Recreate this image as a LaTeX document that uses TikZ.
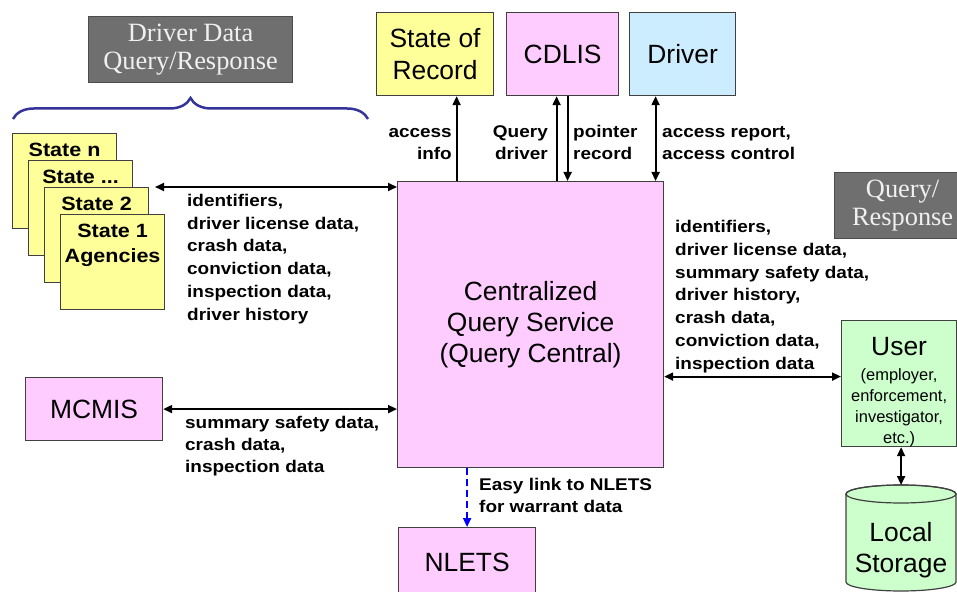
\documentclass[tikz,border=0pt]{standalone}
\usepackage{fontspec}
\setmainfont{Liberation Sans}
\newfontfamily\boldlabel[FakeStretch=1.12]{Liberation Sans}
\newfontfamily\grayserif{Liberation Serif}
\usetikzlibrary{positioning,arrows.meta,decorations.pathreplacing}
\definecolor{qyellow}{HTML}{FFFF99}
\definecolor{qpink}{HTML}{FFCCFF}
\definecolor{qblue}{HTML}{CCECFF}
\definecolor{qgreen}{HTML}{CCFFCC}
\definecolor{qgray}{HTML}{6F6F6F}
\definecolor{qbrace}{HTML}{333399}
\tikzset{
  sys box/.style={
    draw=black!75,
    line width=1.2bp,
    anchor=north west,
    inner sep=0pt,
    align=center,
    font=\fontsize{26.5}{32}\selectfont,
  },
  state box/.style={
    sys box,
    fill=qyellow,
    minimum width=104bp,
    minimum height=95bp,
  },
  state text/.style={
    anchor=north,
    inner sep=0pt,
    yshift=-10bp,
    align=center,
    font=\boldlabel\bfseries\fontsize{19.3}{25}\selectfont,
  },
  gray box/.style={
    fill=qgray,
    draw=black!70,
    line width=1.2bp,
    anchor=north west,
    inner sep=0pt,
    text=gray!12,
    align=center,
    font=\grayserif\fontsize{26.5}{28}\selectfont,
  },
  flow text/.style={
    inner sep=0pt,
    align=left,
    font=\boldlabel\bfseries\fontsize{17}{22.8}\selectfont,
  },
  one way/.style={
    line width=2bp,
    -{Triangle[length=9bp,width=8bp]},
  },
  two way/.style={
    line width=2bp,
    {Triangle[length=9bp,width=8bp]}-{Triangle[length=9bp,width=8bp]},
  },
}

\begin{document}
\begin{tikzpicture}[x=1bp, y=-1bp]
    \useasboundingbox (0,0) rectangle (957,592);
    \clip (0,0) rectangle (957,592);

    % headings
    \node [gray box, minimum width=204bp, minimum height=66bp] (qrleft) at (88,16) {Driver Data\\Query/Response};
    \node [gray box, minimum width=136bp, minimum height=66bp] (qrright) at (834,172) {Query/\\Response};
    \draw [decorate, decoration={brace, amplitude=21bp}, qbrace, line width=2.5bp] (13,119) -- (368,119);

    % stacked state agencies
    \node [state box, label={[state text]north:State n}] (stn) at (12,133) {};
    \node [state box, below right=27bp and 16bp of stn.north west, label={[state text]north:State ...}] (stdots) {};
    \node [state box, below right=27bp and 16bp of stdots.north west, label={[state text]north:State 2}] (st2) {};
    \node [state box, below right=27bp and 16bp of st2.north west, label={[state text]north:{State 1\\Agencies}}] (st1) {};

    % top systems
    \node [sys box, fill=qyellow, minimum width=117bp, minimum height=83bp] (sor) at (376,12) {State of\\Record};
    \node [sys box, fill=qpink, minimum width=112bp, minimum height=83bp] (cdlis) at (506,12) {CDLIS};
    \node [sys box, fill=qblue, minimum width=106bp, minimum height=83bp] (driver) at (629,12) {Driver};

    % central service
    \node [sys box, fill=qpink, minimum width=266bp, minimum height=286bp, font=\fontsize{26.5}{31}\selectfont] (central) at (397,181) {Centralized\\Query Service\\(Query Central)};

    \node [sys box, fill=qpink, minimum width=137bp, minimum height=63bp] (mcmis) at (25,377) {MCMIS};
    \node [sys box, fill=qpink, minimum width=137bp, minimum height=70bp] (nlets) at (398,527) {NLETS};

    % user and storage
    \node [sys box, fill=qgreen, minimum width=115bp, minimum height=126bp,
      label={[anchor=north, inner sep=0pt, yshift=-17bp, align=center, font=\fontsize{16.5}{21}\selectfont]north:{{\fontsize{26.5}{26.5}\selectfont User}\\[4bp](employer,\\enforcement,\\investigator,\\etc.)}}] (user) at (841,320) {};
    \draw [fill=qgreen, draw=black!75, line width=1.2bp] (846,494) -- (846,582)
      arc[start angle=180, end angle=360, x radius=55bp, y radius=9bp] -- (956,494)
      arc[start angle=0, end angle=180, x radius=55bp, y radius=9bp] -- cycle;
    \draw [draw=black!75, line width=1.2bp] (901,494) ellipse[x radius=55bp, y radius=9bp];
    \coordinate (stortop) at (901,485);
    \node [inner sep=0pt, align=center, font=\fontsize{26.5}{31}\selectfont] (storage) at (901,550) {Local\\Storage};

    % connectors
    \coordinate (stin) at (155,187);
    \draw [two way] (stin) -- (stin -| central.west);
    \draw [one way] ([xshift=21.5bp]sor.south |- central.north) -- ([xshift=21.5bp]sor.south);
    \draw [one way] ([xshift=-6bp]cdlis.south |- central.north) -- ([xshift=-6bp]cdlis.south);
    \draw [one way] ([xshift=5bp]cdlis.south) -- ([xshift=5bp]cdlis.south |- central.north);
    \draw [two way] ([xshift=-27bp]driver.south) -- ([xshift=-27bp]driver.south |- central.north);
    \draw [two way] (mcmis.east) -- (mcmis.east -| central.west);
    \draw [two way] ([yshift=7bp]user.west -| central.east) -- ([yshift=7bp]user.west);
    \draw [two way] ([xshift=2bp]user.south) -- ([xshift=2bp]user.south |- stortop);
    \draw [one way, blue, dashed, dash pattern=on 7bp off 4bp] (nlets.north |- central.south) -- (nlets.north);

    % flow labels (base = last line)
    \node [flow text, anchor=base west] (stflow) at (187,320) {identifiers,\\driver license data,\\crash data,\\conviction data,\\inspection data,\\driver history};
    \node [flow text, anchor=base east, align=right] (sorflow) at (452,160) {access\\info};
    \node [flow text, anchor=base east, align=right] (cdqflow) at (548,160) {Query\\driver};
    \node [flow text, anchor=base west] (cdpflow) at (573,160) {pointer\\record};
    \node [flow text, anchor=base west] (drvflow) at (662,160) {access report,\\access control};
    \node [flow text, anchor=base west] (userflow) at (675,369) {identifiers,\\driver license data,\\summary safety data,\\driver history,\\crash data,\\conviction data,\\inspection data};
    \node [flow text, anchor=base west, font=\boldlabel\bfseries\fontsize{17}{22}\selectfont] (mcflow) at (185,472) {summary safety data,\\crash data,\\inspection data};
    \node [flow text, anchor=base west, font=\boldlabel\bfseries\fontsize{17}{22}\selectfont] (nlflow) at (479,512) {Easy link to NLETS\\for warrant data};
\end{tikzpicture}
\end{document}
